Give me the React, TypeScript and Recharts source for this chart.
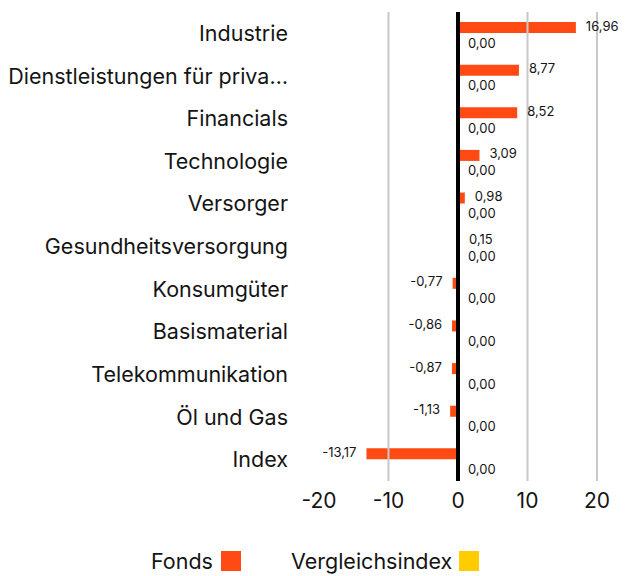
import React from 'react';
import { BarChart, Bar, XAxis, YAxis, ReferenceLine, LabelList } from 'recharts';

const categories = [
  'Industrie',
  'Dienstleistungen für priva…',
  'Financials',
  'Technologie',
  'Versorger',
  'Gesundheitsversorgung',
  'Konsumgüter',
  'Basismaterial',
  'Telekommunikation',
  'Öl und Gas',
  'Index',
];
const fondsValues = [16.96, 8.77, 8.52, 3.09, 0.98, 0.15, -0.77, -0.86, -0.87, -1.13, -13.17];
const indexValues = [0, 0, 0, 0, 0, 0, 0, 0, 0, 0, 0];
const xTicks = [-20, -10, 0, 10, 20];
const gridValues = [-10, 10, 20];

const FONT = 'Inter, "Noto Sans", sans-serif';
const ORANGE = '#FF4A14';
const YELLOW = '#FFCC00';
const TEXT = '#141414';

const data = categories.map((name, i) => ({ name, fonds: fondsValues[i], index: indexValues[i] }));

const fmt = (v: number) => v.toFixed(2).replace('.', ',');

// Fonds label right of positive bars / left of negative ones,
// plus the Vergleichsindex label underneath (its bars have zero width)
const renderLabels = (props: any) => {
  const { x, y, width, height, value, index } = props;
  const neg = value < 0;
  const zeroX = neg ? x + width : x;
  const tx = neg ? x + width - 10 : x + width + 10;
  const idx = indexValues[index] ?? 0;
  return (
    <g>
      <text
        x={tx}
        y={y + height / 2 - 2}
        textAnchor={neg ? 'end' : 'start'}
        dominantBaseline="central"
        fontSize={13}
        fill={TEXT}
        fontFamily={FONT}
      >
        {fmt(value)}
      </text>
      <text
        x={(neg ? x : zeroX) + 10}
        y={y + height * 1.5 + 4}
        textAnchor="start"
        dominantBaseline="central"
        fontSize={13}
        fill={TEXT}
        fontFamily={FONT}
      >
        {fmt(idx)}
      </text>
    </g>
  );
};

export default function App() {
  return (
    <div style={{ position: 'absolute', left: 0, top: 0, width: 625, height: 576, background: '#fff', fontFamily: FONT }}>
      <BarChart
        width={625}
        height={530}
        data={data}
        layout="vertical"
        margin={{ top: 12, right: 28, bottom: 0, left: 0 }}
        barGap={0}
        barCategoryGap={0}
      >
        {gridValues.map((v) => (
          <ReferenceLine key={v} x={v} stroke="#c8c8c8" strokeWidth={2} />
        ))}
        <XAxis
          type="number"
          domain={[-20, 20]}
          ticks={xTicks}
          axisLine={false}
          tickLine={false}
          tick={{ fontSize: 21, fill: TEXT, fontFamily: FONT }}
          tickMargin={6}
          height={49}
        />
        <YAxis
          type="category"
          dataKey="name"
          width={319}
          axisLine={false}
          tickLine={false}
          tickMargin={25}
          interval={0}
          tick={{ fontSize: 21.5, fill: TEXT, fontFamily: FONT }}
        />
        <Bar dataKey="fonds" fill={ORANGE} barSize={11} isAnimationActive={false}>
          <LabelList dataKey="fonds" content={renderLabels} />
        </Bar>
        <Bar dataKey="index" fill={YELLOW} barSize={11} isAnimationActive={false} />
        <ReferenceLine x={0} stroke="#000" strokeWidth={4} />
      </BarChart>
      <div
        style={{
          position: 'absolute',
          top: 547,
          left: 151,
          display: 'flex',
          alignItems: 'center',
          fontSize: 21.5,
          color: TEXT,
          lineHeight: '28px',
        }}
      >
        <span>Fonds</span>
        <span style={{ display: 'inline-block', width: 20, height: 20, background: ORANGE, marginLeft: 8 }} />
        <span style={{ marginLeft: 50 }}>Vergleichsindex</span>
        <span style={{ display: 'inline-block', width: 20, height: 20, background: YELLOW, marginLeft: 7 }} />
      </div>
    </div>
  );
}
